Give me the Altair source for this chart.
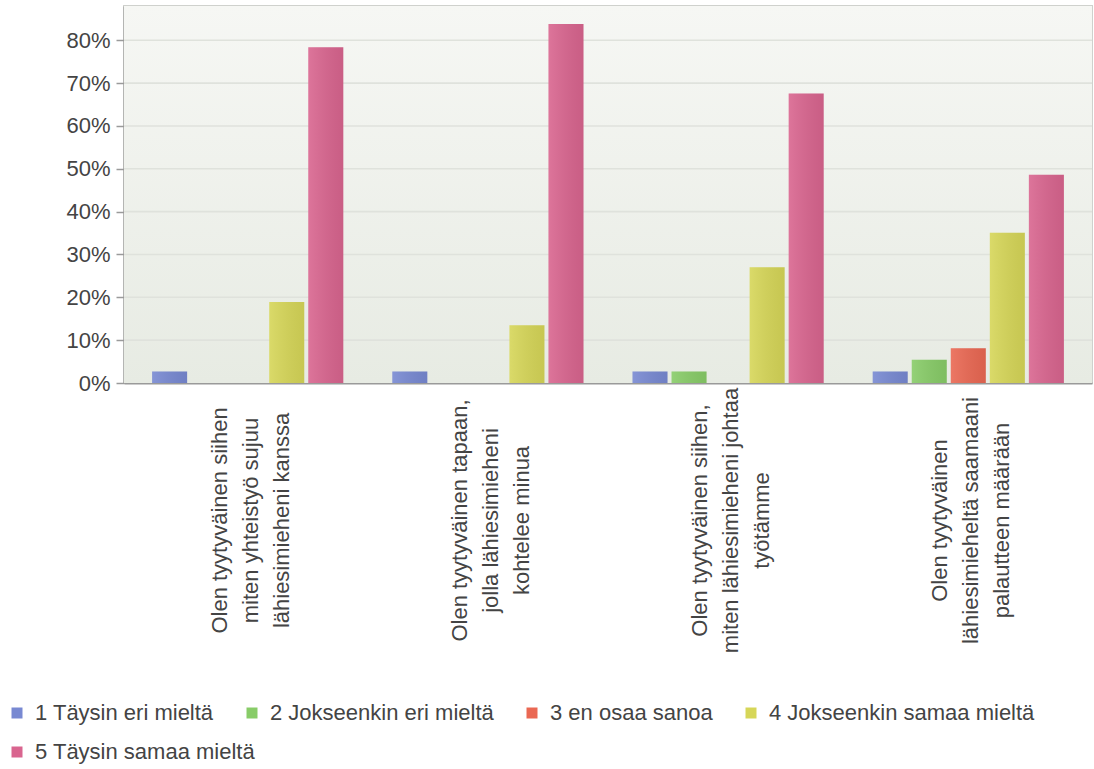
import altair as alt
import pandas as pd

categories = [
    "Olen tyytyväinen siihen\nmiten yhteistyö sujuu\nlähiesimieheni kanssa",
    "Olen tyytyväinen tapaan,\njolla lähiesimieheni\nkohtelee minua",
    "Olen tyytyväinen siihen,\nmiten lähiesimieheni johtaa\ntyötämme",
    "Olen tyytyväinen\nlähiesimieheltä saamaani\npalautteen määrään",
]
series = [
    "1 Täysin eri mieltä",
    "2 Jokseenkin eri mieltä",
    "3 en osaa sanoa",
    "4 Jokseenkin samaa mieltä",
    "5 Täysin samaa mieltä",
]
colors = ["#7889d2", "#88cc68", "#ea6853", "#d6d658", "#d9658f"]

s1 = [2.7, 2.7, 2.7, 2.7]
s2 = [0.0, 0.0, 2.7, 5.4]
s3 = [0.0, 0.0, 0.0, 8.1]
s4 = [18.9, 13.5, 27.0, 35.1]
s5 = [78.4, 83.8, 67.6, 48.6]
all_values = [s1, s2, s3, s4, s5]

y_ticks = [0, 0.1, 0.2, 0.3, 0.4, 0.5, 0.6, 0.7, 0.8]

rows = []
for name, vals in zip(series, all_values):
    for cat, v in zip(categories, vals):
        rows.append({"question": cat, "answer": name, "value": v / 100.0})
df = pd.DataFrame(rows)
df_a = df[df["answer"] != series[4]]
df_b = df[df["answer"] == series[4]]

font = "Liberation Sans"
fs = 22
text_color = "#444444"

y_scale = alt.Scale(domain=[0, 0.88], nice=False)
y_axis = alt.Axis(
    title=None,
    format=".0%",
    values=y_ticks,
    tickSize=8,
    labelPadding=6,
    grid=False,
)

x_enc = alt.X(
    "question:N",
    sort=categories,
    scale=alt.Scale(paddingInner=0.204, paddingOuter=0.117),
    axis=alt.Axis(
        title=None,
        labelAngle=270,
        labelAlign="center",
        labelBaseline="middle",
        labelExpr="split(datum.label, '\\n')",
        labelPadding=137,
        labelLineHeight=31,
        labelOffset=-28,
        ticks=False,
        labelLimit=400,
    ),
)
y_enc = alt.Y("value:Q", scale=y_scale, axis=y_axis)
xoff = alt.XOffset(
    "answer:N", sort=series,
    scale=alt.Scale(domain=series, paddingInner=0.103, paddingOuter=0),
)

background = alt.Chart(pd.DataFrame({"a": [0]})).mark_rect(
    fill=alt.LinearGradient(
        gradient="linear",
        x1=0, y1=0, x2=0, y2=1,
        stops=[
            alt.GradientStop(offset=0, color="#f6f7f4"),
            alt.GradientStop(offset=1, color="#e7ebe3"),
        ],
    )
).encode(
    x=alt.value(0), x2=alt.value("width"),
    y=alt.value(0), y2=alt.value("height"),
)

grid = alt.Chart(pd.DataFrame({"value": y_ticks[1:]})).mark_rule(
    color="#dfe2dc", strokeWidth=1.6
).encode(y=alt.Y("value:Q", scale=y_scale, axis=y_axis))


def legend(y, values):
    return alt.Legend(
        title=None,
        orient="none",
        legendX=-118,
        legendY=y,
        direction="horizontal",
        values=values,
        symbolType="square",
        symbolSize=121,
        symbolStrokeWidth=0,
        symbolOffset=0,
        labelOffset=7,
        labelFontSize=fs,
        labelFont=font,
        labelColor=text_color,
        columnPadding=27,
        labelLimit=500,
    )


bars_a = alt.Chart(df_a).mark_bar().encode(
    x=x_enc,
    y=y_enc,
    xOffset=xoff,
    color=alt.Color(
        "answer:N",
        sort=series[:4],
        scale=alt.Scale(domain=series[:4], range=colors[:4]),
        legend=legend(696, series[:4]),
    ),
)
bars_b = alt.Chart(df_b).mark_bar().encode(
    x=x_enc,
    y=y_enc,
    xOffset=xoff,
    color=alt.Color(
        "answer:N",
        scale=alt.Scale(domain=series[4:], range=colors[4:]),
        legend=legend(735, series[4:]),
    ),
)

overlay = alt.Chart(df).mark_bar(
    fill=alt.LinearGradient(
        gradient="linear",
        x1=0, y1=0, x2=1, y2=0,
        stops=[
            alt.GradientStop(offset=0, color="rgba(255,255,255,0.10)"),
            alt.GradientStop(offset=1, color="rgba(0,0,0,0.07)"),
        ],
    )
).encode(x=x_enc, y=y_enc, xOffset=xoff)

chart = (
    alt.layer(background, grid, bars_a, bars_b, overlay)
    .resolve_scale(color="independent")
    .properties(
        width=968,
        height=377,
        autosize="none",
        padding={"left": 124, "top": 6, "right": 2, "bottom": 386},
    )
    .configure_view(
        stroke="#cfd1cd",
        strokeWidth=2,
    )
    .configure_axis(
        labelFont=font,
        labelFontSize=fs,
        labelColor=text_color,
        domainColor="#9a9a9a",
        domainWidth=2,
        tickColor="#9a9a9a",
        tickWidth=1.5,
    )
)

chart.save("out.html", embed_options={"renderer": "svg", "actions": False})
